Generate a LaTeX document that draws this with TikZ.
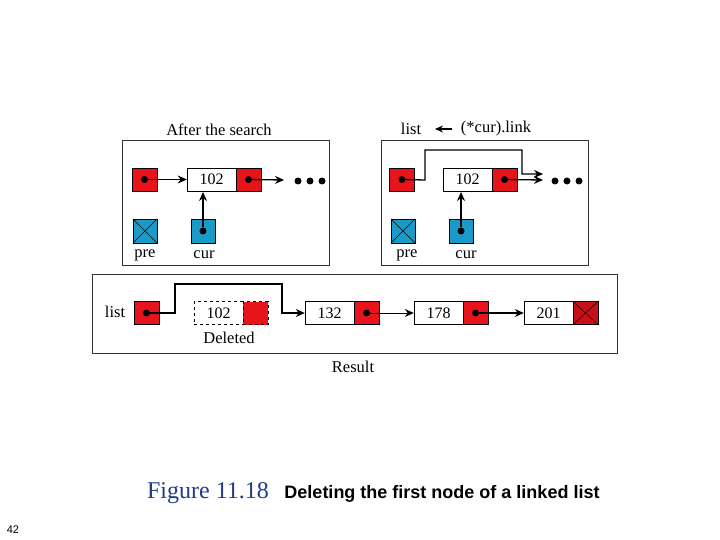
\documentclass[tikz,border=0pt]{standalone}
\usepackage{fontspec}
\setmainfont{Liberation Serif}
\newfontfamily\sansf{Liberation Sans}
\usetikzlibrary{arrows.meta}
\definecolor{rd}{HTML}{E8141B}
\definecolor{bl}{HTML}{1A9AC6}
\definecolor{capblue}{HTML}{1F3C88}
\begin{document}
\begin{tikzpicture}[x=1pt,y=-1pt,
  frame/.style={draw=black!80,line width=0.8pt},
  dat/.style={draw,fill=white,minimum width=49pt,minimum height=23pt,inner sep=0pt,font=\fontsize{16}{16}\selectfont},
  ptr/.style={draw,fill=rd,minimum width=25pt,minimum height=23pt,inner sep=0pt},
  bptr/.style={draw,fill=bl,minimum width=24pt,minimum height=24pt,inner sep=0pt},
  lab/.style={font=\fontsize{16.5}{16.5}\selectfont,inner sep=0pt},
  arr/.style={line width=1.3pt,-{Stealth[length=9pt,width=8pt]}},
  dot/.style={circle,fill,inner sep=0pt,minimum size=7pt}]
\useasboundingbox (0,0) rectangle (720,540);
% left panel
\draw[frame] (122,140) rectangle (329,265);
\node[lab] (t1) at (219,130) {After the search};
\node[ptr] (lp) at (144.5,179.5) {};
\node[dat] (ld) at (211.5,179.5) {102};
\node[ptr] (lr) at (248.5,179.5) {};
\node[bptr] (lpre) at (145,231) {};
\draw (lpre.north west) -- (lpre.south east) (lpre.north east) -- (lpre.south west);
\node[bptr] (lcur) at (203,231) {};
\node[lab] at (145,255) {pre};
\node[lab] at (204,255) {cur};
\node[dot] (a1) at (lp.center) {};
\node[dot] (a2) at (lr.center) {};
\node[dot] (a3) at (lcur.center) {};
\draw[arr] (a1) -- (ld.west);
\draw[arr] (a2) -- (284,180);
\draw[arr] (a3) -- (203,192);
\node[dot] (d1) at (298,181) {};\node[dot] (d2) at (310,181) {};\node[dot] (d3) at (322,181) {};
% right panel
\draw[frame] (381,140) rectangle (588,265);
\node[lab] (l2) at (411,129) {list};
\node[lab] (cl) at (496,129) {(*cur).link};
\coordinate (ra) at (452,129);\coordinate (rb) at (435,129);
\draw[line width=1.2pt,-{Stealth[length=8pt,width=7pt]}] (ra) -- (rb);
\node[ptr] (rp) at (402,179.5) {};
\node[dat] (rd1) at (467.5,179.5) {102};
\node[ptr] (rr) at (504.5,179.5) {};
\node[bptr] (rpre) at (403,231) {};
\draw (rpre.north west) -- (rpre.south east) (rpre.north east) -- (rpre.south west);
\node[bptr] (rcur) at (461,231) {};
\node[lab] at (407,255) {pre};
\node[lab] at (466,255) {cur};
\node[dot] (b1) at (rp.center) {};
\node[dot] (b2) at (rr.center) {};
\node[dot] (b3) at (rcur.center) {};
\coordinate (rt) at (543,174);
\draw[arr] (b1) -- (425,180) -- (425,150) -- (522,150) -- (522,174) -- (rt);
\draw[arr] (b2) -- (543,180);
\draw[arr] (b3) -- (461,192);
\node[dot] (e1) at (555,181) {};\node[dot] (e2) at (567,181) {};\node[dot] (e3) at (579,181) {};
% bottom panel
\draw[frame] (92,274) rectangle (617,353);
\node[lab] (l3) at (115,312) {list};
\node[ptr] (bp) at (146.5,313) {};
\node[dat,dashed] (del) at (218.5,313) {102};
\node[ptr,dashed] (delr) at (255.5,313) {};
\node[lab] at (229,338) {Deleted};
\node[dat] (n1) at (329.5,313) {132};
\node[ptr] (n1r) at (366.5,313) {};
\node[dat] (n2) at (438.5,313) {178};
\node[ptr] (n2r) at (475.5,313) {};
\node[dat] (n3) at (548.5,313) {201};
\node[ptr,fill=rd!85!black] (n3r) at (585.5,313) {};
\draw (n3r.north west) -- (n3r.south east) (n3r.north east) -- (n3r.south west);
\node[dot] (c1) at (bp.center) {};
\node[dot] (c2) at (n1r.center) {};
\node[dot] (c3) at (n2r.center) {};
\draw[arr] (c1) -- (175,313) -- (175,284) -- (282,284) -- (282,313) -- (n1.west);
\draw[arr,line width=0.9pt] (c2) -- (n2.west);
\draw[arr] (c3) -- (n3.west);
\node[lab] at (353,367) {Result};
% caption
\node[font=\fontsize{24}{24}\selectfont,text=capblue,inner sep=0pt] (fig) at (208,493) {Figure 11.18};
\node[font=\sansf\bfseries\fontsize{18}{18}\selectfont,inner sep=0pt] (cap) at (442,494) {Deleting the first node of a linked list};
\node[font=\sansf\fontsize{11}{11}\selectfont,inner sep=0pt] (pg) at (13,530) {42};
\end{tikzpicture}
\end{document}
